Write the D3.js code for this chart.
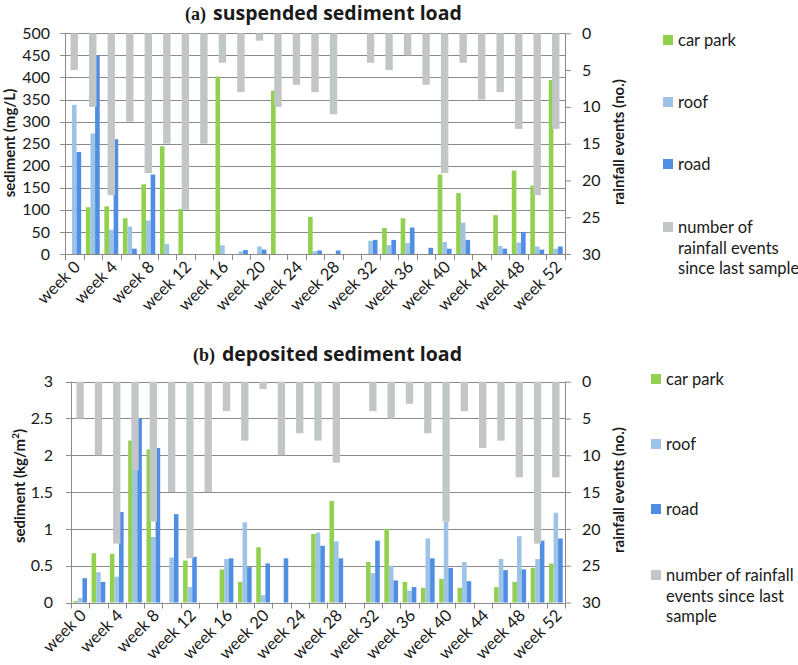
<!DOCTYPE html>
<html>
<head>
<meta charset="utf-8">
<script src="https://cdn.jsdelivr.net/npm/d3@7"></script>
<style>
  body { margin: 0; background: #fff; }
  svg { display: block; font-family: Lato, "Open Sans", sans-serif; }
</style>
</head>
<body>
<svg id="chart" width="798" height="665"></svg>
<script>
// ---------- data ----------
const categories = ["week 0","week 2","week 4","week 6","week 8","week 10","week 12","week 14","week 16","week 18",
  "week 20","week 22","week 24","week 26","week 28","week 30","week 32","week 34","week 36","week 38",
  "week 40","week 42","week 44","week 46","week 48","week 50","week 52"];
const tickLabels = ["week 0","week 4","week 8","week 12","week 16","week 20","week 24","week 28","week 32",
  "week 36","week 40","week 44","week 48","week 52"];
const seriesNames = ["car park","roof","road"];
const rainfallName = "number of rainfall events since last sample";

// number of rainfall events since last sample (same for both panels)
const rainfall = [5,10,22,12,19,15,24,15,4,8,1,10,7,8,11,0,4,5,3,7,19,4,9,8,13,22,13];

// (a) suspended sediment load (mg/L)
const carParkSS = [0,106,108,81,158,244,102,0,402,0,0,370,0,84,0,0,0,59,81,0,180,138,0,88,189,155,394];
const roofSS    = [338,273,55,62,76,23,0,0,20,6,17,0,0,6,0,0,30,20,25,0,27,71,0,18,26,17,12];
const roadSS    = [231,450,260,12,180,0,0,0,0,9,10,0,0,8,8,0,32,32,60,14,12,32,0,12,50,10,17];

// (b) deposited sediment load (kg/m2)
const carParkDS = [0.02,0.67,0.66,2.2,2.08,0,0.57,0,0.45,0.28,0.75,0,0,0.93,1.38,0,0.55,1.0,0.28,0.2,0.32,0.2,0,0.21,0.28,0.47,0.53];
const roofDS    = [0.06,0.41,0.35,1.8,0.89,0.61,0.21,0,0.59,1.09,0.1,0,0,0.95,0.83,0,0.4,0.5,0.16,0.87,1.1,0.55,0,0.59,0.9,0.59,1.22];
const roadDS    = [0.33,0.28,1.23,2.5,2.1,1.2,0.62,0,0.6,0.48,0.53,0.6,0,0.77,0.6,0,0.84,0.3,0.21,0.6,0.47,0.29,0,0.44,0.45,0.84,0.87];

const leftTicksA = [0,50,100,150,200,250,300,350,400,450,500];
const leftTicksB = [0,0.5,1,1.5,2,2.5,3];
const rightTicks = [0,5,10,15,20,25,30];

// ---------- style ----------
const colors = {"car park":"#92D050","roof":"#9DC3E6","road":"#4F8EE3"};
const rainColor = "#C3C6C6";
const gridColor = "#8A8A8A";
const textColor = "#1a1a1a";

const svg = d3.select("#chart");

function drawPanel(cfg) {
  const g = svg.append("g");
  const x = d3.scaleBand().domain(categories).range([cfg.left, cfg.right]).padding(0);
  const xs = d3.scaleBand().domain(seriesNames).range([0, x.bandwidth()]).paddingInner(0).paddingOuter(0.5);
  const y = d3.scaleLinear().domain([0, cfg.yMax]).range([cfg.bottom, cfg.top]);
  const yR = d3.scaleLinear().domain([0, 30]).range([cfg.top, cfg.bottom]);

  // gridlines
  g.append("g").selectAll("line").data(cfg.leftTicks).join("line")
    .attr("x1", cfg.left - 5).attr("x2", cfg.right)
    .attr("y1", d => Math.round(y(d)) + 0.5).attr("y2", d => Math.round(y(d)) + 0.5)
    .attr("stroke", gridColor).attr("stroke-width", 1);

  // primary bars
  const rows = categories.map((c, i) => ({cat: c, vals: seriesNames.map((s, k) => ({s, v: cfg.series[k][i]}))}));
  g.append("g").selectAll("g").data(rows).join("g")
    .attr("transform", d => `translate(${x(d.cat)},0)`)
    .selectAll("rect").data(d => d.vals.filter(e => e.v > 0)).join("rect")
    .attr("x", e => xs(e.s)).attr("width", xs.bandwidth())
    .attr("y", e => y(e.v)).attr("height", e => y(0) - y(e.v))
    .attr("fill", e => colors[e.s]);

  // secondary (rainfall) bars, hanging from top
  const rw = x.bandwidth() / 2.5;
  g.append("g").selectAll("rect").data(categories.map((c, i) => ({c, v: rainfall[i]})).filter(d => d.v > 0)).join("rect")
    .attr("x", d => x(d.c) + x.bandwidth() / 2 - rw / 2).attr("width", rw)
    .attr("y", cfg.top).attr("height", d => yR(d.v) - cfg.top)
    .attr("fill", rainColor);

  // left axis
  const la = g.append("g").attr("transform", `translate(${cfg.left},0)`)
    .call(d3.axisLeft(y).tickValues(cfg.leftTicks).tickSize(0).tickPadding(cfg.leftPad).tickFormat(d3.format("")));
  la.select(".domain").remove();
  la.selectAll("text").attr("font-size", 16).attr("fill", textColor).attr("font-family", "Lato, sans-serif");
  g.append("line").attr("x1", cfg.left + 0.5).attr("x2", cfg.left + 0.5).attr("y1", cfg.top).attr("y2", cfg.bottom)
    .attr("stroke", gridColor);

  // right axis
  const ra = g.append("g").attr("transform", `translate(${cfg.right},0)`)
    .call(d3.axisRight(yR).tickValues(rightTicks).tickSize(6).tickPadding(11));
  ra.select(".domain").attr("stroke", gridColor).attr("d", `M0.5,${cfg.top}V${cfg.bottom}`);
  ra.selectAll("line").attr("stroke", gridColor);
  ra.selectAll("text").attr("font-size", 16).attr("fill", textColor).attr("font-family", "Lato, sans-serif");

  // bottom axis: line, boundary ticks, rotated labels
  const bx = g.append("g");
  bx.append("line").attr("x1", cfg.left).attr("x2", cfg.right)
    .attr("y1", Math.round(cfg.bottom) + 0.5).attr("y2", Math.round(cfg.bottom) + 0.5).attr("stroke", gridColor);
  const bounds = categories.map(c => x(c)).concat([cfg.right]);
  bx.selectAll("line.tk").data(bounds).join("line").attr("class", "tk")
    .attr("x1", d => Math.round(d) + 0.5).attr("x2", d => Math.round(d) + 0.5)
    .attr("y1", cfg.bottom).attr("y2", cfg.bottom + 6).attr("stroke", gridColor);
  bx.selectAll("text").data(tickLabels).join("text")
    .attr("transform", d => `translate(${x(d) + x.bandwidth() / 2 + 7},${cfg.bottom + 14}) rotate(-45)`)
    .attr("text-anchor", "end")
    .attr("font-size", 16.5).attr("fill", textColor)
    .text(d => d);

  // titles
  const t = g.append("text").attr("x", cfg.titleX).attr("y", cfg.titleY).attr("fill", textColor);
  t.append("tspan").attr("font-family", "'Liberation Serif', serif").attr("font-weight", "bold").attr("font-size", 18)
    .text(cfg.tag);
  t.append("tspan").attr("dx", 7).attr("font-family", "'Open Sans', sans-serif").attr("font-weight", "bold").attr("font-size", 19.5)
    .text(cfg.title);

  // y axis titles
  const yt = g.append("text")
    .attr("transform", `translate(${cfg.yTitleX},${cfg.yTitleY}) rotate(-90)`)
    .attr("text-anchor", "middle").attr("font-weight", "bold").attr("font-size", 15).attr("fill", textColor);
  yt.append("tspan").text(cfg.yTitle);
  if (cfg.yTitleSup) {
    yt.append("tspan").attr("font-size", 10).attr("dy", -6).text(cfg.yTitleSup);
    yt.append("tspan").attr("dy", 6).text(")");
  }
  g.append("text")
    .attr("transform", `translate(${cfg.rTitleX},${cfg.rTitleY}) rotate(-90)`)
    .attr("text-anchor", "middle").attr("font-weight", "bold").attr("font-size", 15).attr("fill", textColor)
    .text("rainfall events (no.)");

  // legend
  const leg = g.append("g");
  const items = seriesNames.map(s => ({name: s, color: colors[s], lines: [s]}))
    .concat([{name: rainfallName, color: rainColor, lines: cfg.rainLegendLines}]);
  items.forEach((it, i) => {
    const yy = cfg.legendY[i];
    leg.append("rect").attr("x", cfg.legendX).attr("y", yy - 5).attr("width", 10).attr("height", 10).attr("fill", it.color);
    const tx = leg.append("text").attr("x", cfg.legendX + 15).attr("y", yy + 6)
      .attr("font-size", 16.5).attr("fill", textColor);
    it.lines.forEach((ln, j) => tx.append("tspan").attr("x", cfg.legendX + 15).attr("dy", j === 0 ? 0 : 20.5).text(ln));
  });
}

drawPanel({
  left: 65, right: 565, top: 33.3, bottom: 254, yMax: 500, leftTicks: leftTicksA, leftPad: 15,
  series: [carParkSS, roofSS, roadSS],
  tag: "(a)", title: "suspended sediment load", titleX: 185, titleY: 20,
  yTitle: "sediment (mg/L)", yTitleX: 15, yTitleY: 143,
  rTitleX: 624, rTitleY: 142,
  legendX: 663, legendY: [40, 102, 164, 227],
  rainLegendLines: ["number of", "rainfall events", "since last sample"]
});

drawPanel({
  left: 71, right: 565, top: 381.7, bottom: 602.5, yMax: 3, leftTicks: leftTicksB, leftPad: 18,
  series: [carParkDS, roofDS, roadDS],
  tag: "(b)", title: "deposited sediment load", titleX: 193, titleY: 361,
  yTitle: "sediment (kg/m", yTitleSup: "2", yTitleX: 25, yTitleY: 486,
  rTitleX: 624, rTitleY: 490,
  legendX: 651, legendY: [379, 444, 509, 575],
  rainLegendLines: ["number of rainfall", "events since last", "sample"]
});
</script>
</body>
</html>
